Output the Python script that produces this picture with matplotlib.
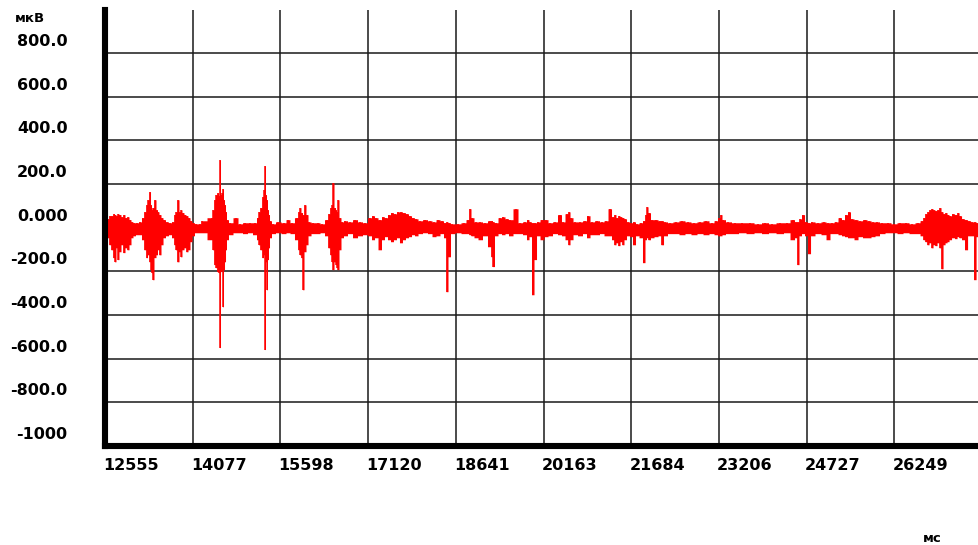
import matplotlib
matplotlib.use("Agg")
import matplotlib.pyplot as plt
from matplotlib.transforms import ScaledTranslation

# ---- data ----
# time, ms
t_ms = [
    12572, 12607, 12642, 12676, 12711, 12728, 12763, 12780, 12815, 12850, 12885, 12919, 12954, 12989,
    13023, 13058, 13110, 13162, 13214, 13249, 13284, 13301, 13336, 13353, 13370, 13388, 13422, 13457,
    13474, 13509, 13544, 13579, 13630, 13682, 13735, 13769, 13787, 13821, 13856, 13873, 13908, 13943,
    13977, 14012, 14047, 14081, 14134, 14203, 14238,
    14411, 14428, 14463, 14480, 14515, 14532, 14550, 14567, 14585, 14602, 14619, 14637, 14654, 14671,
    14723, 14827, 14897, 14983, 15070, 15157, 15209, 15226, 15261, 15296, 15313, 15330, 15348, 15365,
    15382, 15400, 15417, 15469, 15556, 15660, 15729, 15798, 15885, 15920, 15937, 15972, 15990, 16024,
    16059, 16094, 16163, 16250, 16319,
    16406, 16441, 16475, 16493, 16510, 16545, 16562, 16580, 16597, 16631, 16666, 16718, 16805, 16892,
    16978, 17065, 17152, 17204, 17256, 17325, 17377, 17429, 17481, 17533, 17585, 17637, 17689, 17741,
    17794, 17846, 17898, 17950, 18019, 18106, 18192, 18262, 18331, 18401, 18453, 18487, 18522, 18574,
    18678, 18782, 18851, 18886, 18921, 18990, 19060, 19146, 19233, 19268, 19285, 19337, 19407, 19459,
    19528, 19580, 19684, 19754, 19840, 19892, 19927, 19979, 20014, 20066, 20135, 20205, 20274, 20361,
    20447, 20499, 20569, 20604, 20638, 20708, 20794, 20881, 20933, 21003, 21089, 21176, 21245, 21315,
    21367, 21401, 21436, 21471, 21506, 21540, 21575, 21627, 21679, 21731, 21783, 21852, 21904, 21939,
    21957, 21991, 22043,
    22113, 22182, 22217, 22269, 22355, 22459, 22563, 22667, 22771, 22876, 22980, 23084, 23153, 23205,
    23240, 23275, 23361, 23483, 23604, 23744, 23882, 24003, 24125, 24264, 24385, 24489, 24541, 24576,
    24610, 24663, 24715, 24767, 24819, 24922, 25027, 25096, 25165, 25235, 25304, 25356, 25409, 25460,
    25512, 25582, 25651, 25738, 25807, 25877, 25946, 26033, 26137, 26241, 26345, 26449, 26554, 26657,
    26727, 26762, 26796, 26831, 26866, 26901, 26935, 26970, 27005, 27039, 27074, 27109, 27144, 27178,
    27213, 27265, 27317, 27352, 27387, 27438, 27491, 27543, 27595, 27648, 27681, 27715,
]
# upper envelope, µV
v_hi = [
    37, 41, 55, 55, 64, 60, 55, 64, 60, 50, 60, 46, 50, 37,
    27, 23, 23, 27, 46, 73, 105, 128, 165, 105, 82, 92, 128, 82,
    73, 60, 46, 37, 27, 23, 27, 60, 73, 128, 73, 82, 69, 60,
    55, 46, 32, 23, 18, 18, 32,
    46, 82, 128, 151, 160, 146, 311, 151, 160, 178, 128, 105, 73, 37,
    23, 46, 18, 23, 23, 23, 46, 73, 92, 142, 174, 284, 151, 128,
    82, 60, 32, 18, 27, 23, 37, 23, 46, 73, 92, 69, 60, 105,
    60, 27, 23, 23, 18,
    37, 64, 92, 105, 206, 92, 82, 73, 128, 46, 27, 32, 27, 37,
    27, 23, 46, 55, 46, 37, 50, 46, 60, 69, 64, 73, 73, 69,
    64, 55, 46, 41, 32, 37, 32, 27, 37, 32, 23, 27, 23, 18,
    18, 23, 37, 87, 46, 27, 27, 23, 32, 32, 27, 23, 46, 50,
    41, 37, 87, 23, 27, 37, 27, 23, 23, 27, 37, 37, 23, 27,
    60, 27, 64, 73, 46, 27, 27, 32, 55, 27, 32, 27, 32, 87,
    50, 60, 46, 55, 50, 46, 41, 27, 23, 27, 18, 23, 32, 60,
    96, 69, 37,
    37, 32, 32, 27, 23, 27, 32, 27, 23, 27, 32, 23, 32, 46,
    60, 37, 27, 23, 23, 23, 18, 23, 18, 23, 23, 37, 27, 27,
    41, 60, 27, 23, 27, 23, 27, 23, 23, 27, 46, 37, 60, 73,
    41, 37, 32, 37, 32, 27, 27, 23, 23, 18, 23, 23, 18, 23,
    32, 46, 64, 73, 82, 87, 82, 78, 82, 92, 73, 64, 69, 60,
    55, 64, 60, 69, 55, 41, 37, 32, 27, 27, 23, 27,
]
# lower envelope, µV
v_lo = [
    -32, -46, -78, -101, -137, -156, -92, -146, -110, -78, -114, -92, -101, -78,
    -46, -37, -32, -32, -55, -101, -137, -124, -156, -192, -206, -238, -137, -124,
    -101, -124, -78, -46, -37, -32, -46, -78, -101, -156, -110, -133, -101, -92,
    -110, -101, -64, -37, -23, -23, -23,
    -55, -101, -169, -183, -201, -206, -549, -201, -192, -362, -192, -156, -101, -55,
    -32, -23, -23, -27, -23, -32, -55, -78, -101, -137, -124, -558, -156, -284,
    -146, -92, -46, -27, -23, -27, -23, -27, -55, -101, -124, -137, -284, -110,
    -78, -37, -27, -27, -23,
    -37, -92, -124, -156, -192, -156, -169, -183, -192, -101, -46, -37, -27, -46,
    -37, -32, -37, -55, -46, -101, -55, -41, -55, -64, -55, -46, -69, -55,
    -46, -41, -32, -37, -27, -23, -27, -41, -37, -27, -46, -293, -133, -27,
    -23, -27, -27, -32, -37, -46, -55, -37, -87, -133, -178, -37, -27, -32,
    -27, -37, -27, -27, -32, -55, -41, -307, -146, -37, -55, -41, -37, -27,
    -32, -37, -55, -78, -55, -32, -37, -27, -46, -32, -32, -27, -37, -37,
    -55, -78, -69, -82, -64, -78, -55, -37, -41, -78, -37, -46, -160, -55,
    -46, -55, -46,
    -41, -37, -78, -37, -27, -27, -32, -27, -32, -27, -32, -27, -32, -37,
    -37, -32, -27, -27, -23, -27, -23, -27, -23, -27, -23, -55, -46, -169,
    -37, -27, -37, -119, -37, -27, -32, -55, -27, -27, -32, -37, -41, -46,
    -46, -55, -41, -46, -46, -41, -37, -27, -23, -23, -27, -23, -27, -27,
    -37, -55, -64, -78, -69, -92, -78, -82, -69, -92, -188, -78, -69, -64,
    -55, -46, -50, -41, -46, -55, -101, -37, -37, -238, -41, -37,
]

y_ticks = [800, 600, 400, 200, 0, -200, -400, -600, -800, -1000]
y_labels = ["800.0", "600.0", "400.0", "200.0", "0.000", "-200.0", "-400.0", "-600.0", "-800.0", "-1000"]
x_ticks = [12555, 14077, 15598, 17120, 18641, 20163, 21684, 23206, 24727, 26249]
x_labels = [str(v) for v in x_ticks]
x_range = (12555, 27715)
y_range = (-1000, 1000)

# ---- figure ----
W, H, DPI = 979, 545, 100
fig = plt.figure(figsize=(W / DPI, H / DPI), dpi=DPI)
fig.patch.set_facecolor("white")
ax = fig.add_axes([105 / W, (H - 446) / H, 1 - 105 / W, (446 - 9.5) / H])
ax.set_facecolor("white")

red = "#ff0000"
ax.fill_between(t_ms, v_lo, v_hi, step="mid", color=red, lw=0, zorder=3)
ax.vlines(t_ms, v_lo, v_hi, color=red, lw=1.1, zorder=3)

ax.set_xlim(*x_range)
ax.set_ylim(*y_range)

ax.set_xticks(x_ticks)
ax.set_xticklabels(x_labels)
ax.set_yticks(y_ticks)
ax.set_yticklabels(y_labels)

ax.grid(True, color="#1a1a1a", lw=1.1, zorder=1)
ax.set_axisbelow(True)

for s in ("top", "right"):
    ax.spines[s].set_visible(False)
for s in ("left", "bottom"):
    ax.spines[s].set_linewidth(4.4)
    ax.spines[s].set_color("black")
    ax.spines[s].set_zorder(4)

ax.tick_params(axis="both", length=0)
ax.tick_params(axis="y", pad=27)
ax.tick_params(axis="x", pad=9)

for lab in ax.get_yticklabels():
    lab.set_fontweight("bold")
    lab.set_fontsize(11.5)
    lab.set_fontfamily("DejaVu Sans")
    lab.set_transform(lab.get_transform() + ScaledTranslation(0, 13 / DPI, fig.dpi_scale_trans))
for lab in ax.get_xticklabels():
    lab.set_fontweight("bold")
    lab.set_fontsize(11.5)
    lab.set_fontfamily("DejaVu Sans")
    lab.set_horizontalalignment("left")
    lab.set_transform(lab.get_transform() + ScaledTranslation(-2 / DPI, 0, fig.dpi_scale_trans))

fig.text(15 / W, 1 - 19 / H, "мкВ", fontsize=9.5, fontweight="bold", ha="left", va="center")
fig.text(932 / W, 1 - 539 / H, "мс", fontsize=9.5, fontweight="bold", ha="center", va="center")

fig.savefig("out.png", dpi=DPI)
